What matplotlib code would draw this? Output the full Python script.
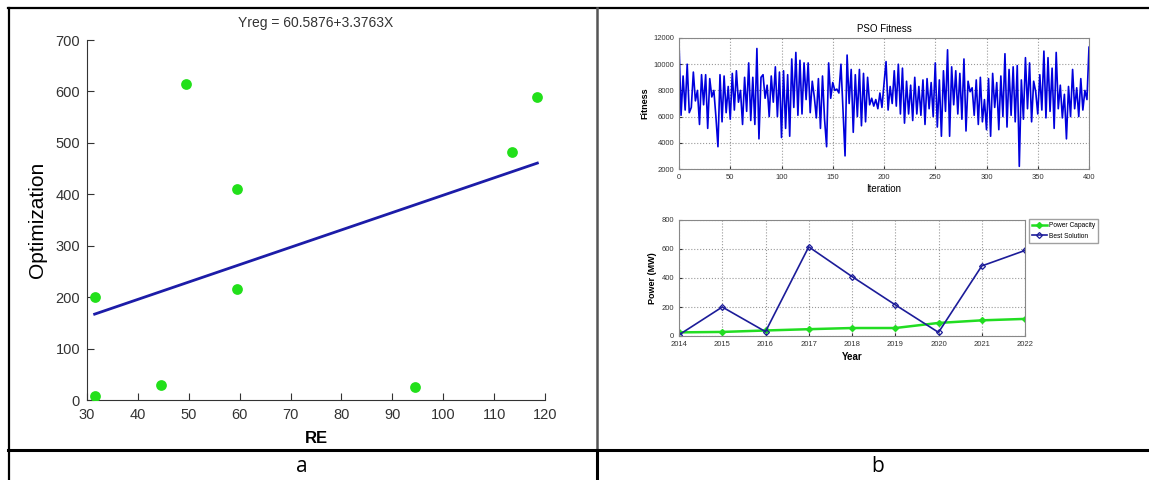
import matplotlib

matplotlib.use("Agg")
import matplotlib.pyplot as plt
from matplotlib.lines import Line2D
import numpy as np

plt.rcParams["font.family"] = ["Liberation Sans", "DejaVu Sans"]

# panel a: RE vs Optimization scatter with regression
re_vals = [31.5, 31.5, 44.5, 49.5, 59.5, 59.5, 94.5, 113.5, 118.5]
opt_vals = [8, 200, 30, 615, 410, 215, 25, 483, 590]
reg_a, reg_b = 60.5876, 3.3763

fit_iter = list(range(0, 401, 2))
fitness = [
    11700, 6100, 9100, 6500, 10000, 6300, 6700, 9400, 7200, 8000,
    5400, 9200, 6900, 9200, 5100, 8900, 7500, 8000, 6000, 3700,
    9200, 5600, 9100, 6300, 8300, 5800, 9300, 6500, 9500, 7100,
    8000, 5400, 9000, 6400, 10100, 5700, 9000, 5400, 11200, 4300,
    9000, 9200, 7400, 8400, 6000, 9100, 7100, 9800, 6000, 9400,
    4400, 9500, 5100, 9200, 4500, 10400, 6700, 10900, 6100, 10300,
    6200, 10100, 7300, 10100, 6300, 8700, 7500, 5900, 8900, 5100,
    9100, 5800, 3700, 10100, 7400, 8600, 8000, 8100, 7800, 10000,
    6500, 3000, 10700, 7000, 9600, 4800, 9200, 6000, 9600, 5300,
    9300, 5600, 9000, 6900, 7400, 6800, 7300, 6600, 7800, 6700,
    8500, 10200, 6500, 8300, 7000, 9500, 6800, 10000, 6200, 9700,
    5500, 8700, 6200, 8400, 5700, 9000, 6200, 8300, 6100, 8800,
    5400, 8900, 6600, 8600, 6000, 10100, 5200, 8800, 4500, 9500,
    6400, 11100, 4500, 9800, 6900, 9500, 6200, 9300, 5800, 10400,
    4900, 8700, 7900, 8200, 6100, 8800, 5400, 9000, 5600, 7300,
    5000, 8900, 4500, 9300, 6700, 8600, 5000, 9100, 6000, 10800,
    5200, 9600, 6100, 9800, 5600, 9900, 2200, 8800, 5800, 10500,
    6600, 10100, 5600, 8700, 7900, 6200, 9200, 6500, 11000, 5900,
    10500, 6400, 9700, 5100, 10900, 6600, 8400, 5900, 7700, 4300,
    8300, 6000, 9600, 6600, 8200, 6000, 8900, 6500, 8000, 7300,
    11300,
]

# panel b bottom: power per year
years = [2014, 2015, 2016, 2017, 2018, 2019, 2020, 2021, 2022]
power_capacity = [25, 28, 38, 47, 55, 55, 90, 108, 118]
best_solution = [8, 200, 30, 615, 410, 215, 25, 483, 590]

W, H = 1149, 480
fig = plt.figure(figsize=(W / 100, H / 100), dpi=100)
fig.patch.set_facecolor("white")


# table borders, in pixel coords from the top-left
def hline(y, x0, x1, color="black", lw=1.6):
    fig.add_artist(Line2D([x0 / W, x1 / W], [1 - y / H, 1 - y / H], color=color, lw=lw))


def vline(x, y0, y1, color="black", lw=1.6):
    fig.add_artist(Line2D([x / W, x / W], [1 - y0 / H, 1 - y1 / H], color=color, lw=lw))


hline(8, 8, 1149)
hline(450, 8, 1149, lw=2.2)
vline(8.5, 8, 480)
vline(597, 8, 450, color="#555555", lw=1.8)
vline(597, 450, 480, lw=2.2)
fig.text(302 / W, 1 - 466 / H, "a", ha="center", va="center", fontsize=15, family="Open Sans")
fig.text(878 / W, 1 - 466 / H, "b", ha="center", va="center", fontsize=15, family="Open Sans")

# ---- panel a
ax = fig.add_axes([87 / W, 1 - 400 / H, 458 / W, 360 / H])
ax.scatter(re_vals, opt_vals, s=60, color="#22e01a", zorder=3, linewidths=0)
xr = np.array([min(re_vals), max(re_vals)])
ax.plot(xr, reg_a + reg_b * xr, color="#1c1ca8", lw=2)
ax.set_xlim(30, 120)
ax.set_ylim(0, 700)
ax.set_xticks(range(30, 121, 10))
ax.set_yticks(range(0, 701, 100))
for s in ("top", "right"):
    ax.spines[s].set_visible(False)
for s in ("left", "bottom"):
    ax.spines[s].set_color("#333333")
ax.tick_params(direction="in", colors="#333333", labelsize=10.5, length=5)
ax.tick_params(axis="x", pad=6)
ax.tick_params(axis="y", pad=5)
ax.set_xlabel("RE", fontsize=12, fontweight="bold", labelpad=6)
ax.set_ylabel("Optimization", fontsize=15, labelpad=6)
ax.set_title("Yreg = 60.5876+3.3763X", fontsize=10, color="#333333", pad=9)

# ---- panel b top
grid_kw = dict(color="#999999", ls=":", lw=0.8)
ax2 = fig.add_axes([679 / W, 1 - 169 / H, 410 / W, 131 / H])
ax2.plot(fit_iter, fitness, color="#0000dd", lw=1.2)
ax2.set_xlim(0, 400)
ax2.set_ylim(2000, 12000)
ax2.set_xticks(range(0, 401, 50))
ax2.set_yticks(range(2000, 12001, 2000))
ax2.grid(True, **grid_kw)
ax2.tick_params(direction="in", labelsize=5.5, colors="#333333", length=2)
for s in ax2.spines.values():
    s.set_color("#888888")
ax2.set_title("PSO Fitness", fontsize=7, pad=4)
ax2.set_xlabel("Iteration", fontsize=7, labelpad=2)
ax2.set_ylabel("Fitness", fontsize=6.5, fontweight="bold", labelpad=3)

# ---- panel b bottom
ax3 = fig.add_axes([679 / W, 1 - 336 / H, 346 / W, 116 / H])
ax3.plot(years, power_capacity, color="#22dd22", lw=1.8, marker="D", ms=3, label="Power Capacity")
ax3.plot(years, best_solution, color="#1c1c99", lw=1.2, marker="D", ms=3,
         mfc="none", mew=0.9, label="Best Solution")
ax3.set_xlim(2014, 2022)
ax3.set_ylim(0, 800)
ax3.set_xticks(years)
ax3.set_yticks(range(0, 801, 200))
ax3.grid(True, **grid_kw)
ax3.tick_params(direction="in", labelsize=5.5, colors="#333333", length=2)
for s in ax3.spines.values():
    s.set_color("#888888")
ax3.set_xlabel("Year", fontsize=7, fontweight="bold", labelpad=3)
ax3.set_ylabel("Power (MW)", fontsize=6.5, fontweight="bold", labelpad=3)
ax3.legend(loc="upper left", bbox_to_anchor=(1.012, 1.01), fontsize=4.8, frameon=True,
           fancybox=False, edgecolor="#888888", handlelength=2.2, handletextpad=0.3,
           borderpad=0.45, labelspacing=0.55, borderaxespad=0)

fig.savefig("out.png", dpi=100, facecolor="white")
